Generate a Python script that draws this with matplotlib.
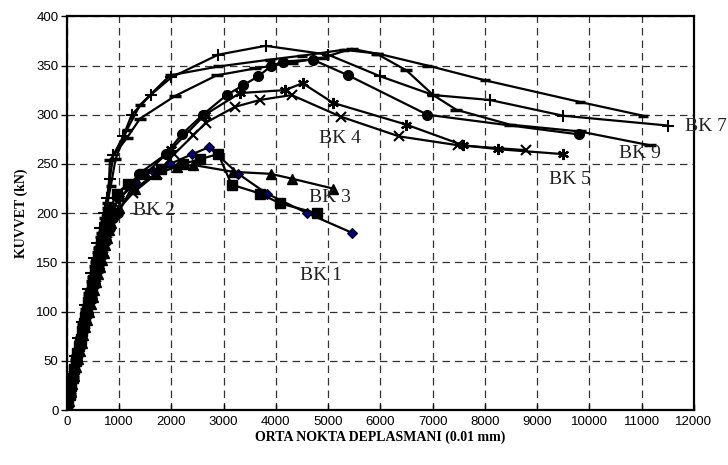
import matplotlib
matplotlib.use("Agg")
import matplotlib.pyplot as plt

# ---------------- data ----------------
x_bk1 = [0, 60, 120, 180, 240, 300, 360, 420, 480, 540, 600, 660, 720, 780, 840, 1000, 1300, 1650, 1971, 2400, 2718, 3279, 3822, 4600, 5461]
y_bk1 = [0, 15, 35, 50, 65, 80, 95, 110, 125, 140, 152, 165, 178, 190, 200, 215, 232, 243, 250, 260, 267, 240, 220, 200, 180]

x_bk2 = [0, 25, 50, 80, 110, 140, 170, 200, 230, 260, 290, 320, 350, 380, 410, 440, 470, 500, 530, 560, 590, 620, 650, 680, 710, 740, 770, 800, 830,
         951, 1174, 1450, 1800, 2227, 2550, 2896, 3152, 3694, 4077, 4778]
y_bk2 = [0, 8, 15, 24, 33, 42, 50, 58, 65, 72, 80, 88, 95, 102, 110, 118, 125, 132, 140, 148, 155, 162, 168, 175, 182, 189, 195, 200, 205,
         220, 230, 240, 245, 250, 255, 260, 229, 220, 210, 200]

x_bk3 = [0, 35, 70, 105, 140, 175, 210, 245, 280, 315, 350, 385, 420, 455, 490, 525, 560, 595, 630, 665, 700, 735, 770, 805, 840,
         1000, 1300, 1700, 2100, 2418, 3183, 3898, 4313, 5097]
y_bk3 = [0, 9, 18, 27, 35, 44, 52, 60, 68, 76, 84, 92, 100, 108, 115, 122, 130, 138, 145, 152, 160, 168, 175, 183, 190,
         205, 225, 240, 247, 249, 242, 240, 235, 225]

x_bk4 = [0, 60, 130, 200, 270, 340, 410, 480, 550, 620, 690, 760, 830, 1000, 1270, 1716, 2050, 2418, 2660, 3215, 3694, 4300, 5244, 6360, 7488, 8785]
y_bk4 = [0, 15, 35, 52, 70, 87, 103, 120, 135, 150, 165, 180, 192, 205, 221, 240, 260, 279, 292, 308, 315, 320, 298, 278, 269, 264]

x_bk5 = [0, 55, 120, 185, 250, 315, 380, 445, 510, 575, 640, 705, 770, 850, 1000, 1500, 2000, 2641, 3311, 4172, 4511, 5097, 6495, 7585, 8255, 9499]
y_bk5 = [0, 16, 35, 53, 70, 87, 103, 118, 133, 148, 162, 176, 190, 202, 215, 240, 265, 300, 322, 325, 332, 312, 290, 269, 265, 260]

x_bk6 = [0, 60, 120, 190, 260, 330, 400, 470, 540, 610, 680, 750, 820, 890, 982, 1378, 1895, 2195, 2600, 3056, 3375, 3662, 3898, 4128, 4702, 5384, 6900, 9805]
y_bk6 = [0, 14, 32, 50, 66, 82, 98, 113, 128, 143, 158, 172, 185, 195, 200, 240, 260, 280, 300, 320, 330, 339, 349, 354, 356, 340, 300, 280]

x_bk7 = [0, 50, 100, 160, 220, 280, 340, 400, 460, 520, 580, 640, 700, 760, 820, 887, 1078, 1238, 1600, 2000, 2896, 3803, 5000, 6000, 7011, 8096, 9499, 11508]
y_bk7 = [0, 18, 37, 55, 73, 90, 107, 123, 139, 155, 170, 185, 200, 215, 235, 259, 278, 300, 320, 338, 361, 370, 361, 339, 320, 315, 299, 289]

x_bk8 = [0, 55, 110, 170, 230, 290, 350, 410, 470, 530, 590, 650, 710, 770, 840, 930, 1150, 1400, 1971, 2900, 3885, 4500, 5300, 5958, 6900, 8000, 9818, 11030]
y_bk8 = [0, 17, 35, 53, 70, 87, 103, 119, 135, 150, 165, 180, 195, 210, 228, 255, 285, 310, 340, 349, 356, 360, 366, 362, 350, 335, 313, 299]

x_bk9 = [0, 60, 120, 180, 240, 300, 360, 420, 480, 540, 600, 660, 720, 780, 823, 1142, 1397, 2067, 2865, 3600, 4300, 4900, 5450, 5927, 6500, 7011, 7457, 8478, 9818, 11158]
y_bk9 = [0, 16, 34, 51, 68, 84, 100, 116, 131, 146, 161, 176, 190, 205, 254, 276, 296, 319, 340, 347, 353, 358, 367, 362, 345, 320, 305, 290, 283, 269]

labels = ["BK 1", "BK 2", "BK 3", "BK 4", "BK 5", "BK 9", "BK 7"]
label_x = [4861, 1665, 5033, 5225, 9627, 10967, 12230]
label_y = [137, 203, 216, 276, 234, 261, 288]

x_ticks = list(range(0, 12001, 1000))
y_ticks = list(range(0, 401, 50))

# ---------------- figure ----------------
fig = plt.figure(figsize=(7.28, 4.65), dpi=100)
ax = fig.add_axes([0.092, 0.118, 0.861, 0.847])

lw = 1.6
ax.plot(x_bk1, y_bk1, color="black", lw=lw, marker="D", ms=5.5, mfc="#000080", mec="black", mew=0.8, zorder=3)
ax.plot(x_bk2, y_bk2, color="black", lw=lw, marker="s", ms=6.5, mfc="black", mec="black", zorder=3)
ax.plot(x_bk3, y_bk3, color="black", lw=lw, marker="^", ms=6.5, mfc="black", mec="black", zorder=3)
ax.plot(x_bk4, y_bk4, color="black", lw=lw, marker="x", ms=7, mec="black", mew=1.5, zorder=3)
ax.plot(x_bk5, y_bk5, color="black", lw=lw, marker=(6, 2, 0), ms=8, mec="black", mew=1.6, zorder=3)
ax.plot(x_bk6, y_bk6, color="black", lw=lw, marker="o", ms=7, mfc="black", mec="black", zorder=3)
ax.plot(x_bk7, y_bk7, color="black", lw=lw, marker="+", ms=8, mec="black", mew=1.5, zorder=3)
ax.plot(x_bk8, y_bk8, color="black", lw=lw, marker="_", ms=7, mec="black", mew=2.5, zorder=3)
ax.plot(x_bk9, y_bk9, color="black", lw=lw, marker="_", ms=9, mec="black", mew=2.5, zorder=3)

for t, tx, ty in zip(labels, label_x, label_y):
    ax.text(tx, ty, t, family="Liberation Serif", fontsize=14, ha="center", va="center",
            color="#222222", clip_on=False, zorder=4)

ax.set_xlim(0, 12000)
ax.set_ylim(0, 400)
ax.set_xticks(x_ticks)
ax.set_yticks(y_ticks)
ax.tick_params(axis="x", direction="in", length=4, width=1, labelsize=9.5, pad=4)
ax.tick_params(axis="y", direction="out", length=4, width=1, labelsize=9.5, pad=2)
for lab in ax.get_xticklabels() + ax.get_yticklabels():
    lab.set_family("Liberation Sans")

ax.grid(True, color="#333333", lw=0.9, linestyle=(0, (6, 4)))
ax.set_axisbelow(True)
for s in ax.spines.values():
    s.set_linewidth(1.6)
    s.set_color("black")

ax.set_xlabel("ORTA NOKTA DEPLASMANI (0.01 mm)", family="Liberation Serif", fontweight="bold",
              fontsize=10, labelpad=2)
ax.set_ylabel("KUVVET (kN)", family="Liberation Serif", fontweight="bold", fontsize=10, labelpad=6)

fig.savefig("out.png", dpi=100)
